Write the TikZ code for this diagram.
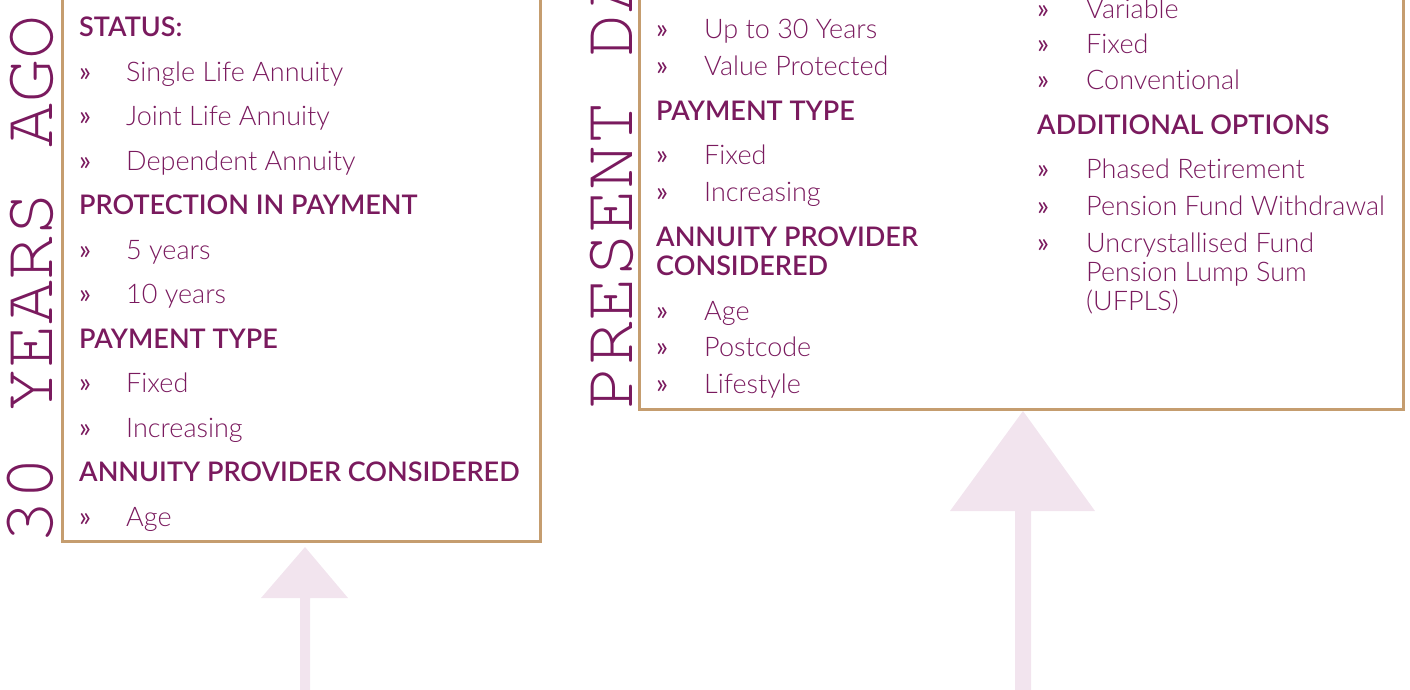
\documentclass[tikz,border=0pt]{standalone}
\usepackage{fontspec}
\newfontfamily\latofont{Lato}[Ligatures=NoCommon]
\IfFontExistsTF{Lato Light}{\newfontfamily\itemfont{Lato Light}[Ligatures=NoCommon]}{\let\itemfont\latofont}
\IfFontExistsTF{Lato Semibold}{\newfontfamily\headfont{Lato Semibold}[Ligatures=NoCommon]}{\newcommand\headfont{\latofont\bfseries}}
\IfFontExistsTF{TeX Gyre Cursor}{\newfontfamily\capfont{TeX Gyre Cursor}}{\newfontfamily\capfont{Liberation Mono}}
\definecolor{plum}{HTML}{7A1A5E}
\definecolor{boxtan}{HTML}{C59D6F}
\definecolor{blush}{HTML}{F2E4EE}
\tikzset{
  item/.style={anchor=base west, inner sep=0pt, text=plum,
    font=\itemfont\fontsize{27}{32}\selectfont},
  head/.style={anchor=base west, inner sep=0pt, text=plum,
    font=\headfont\fontsize{27}{32}\selectfont},
  bul/.style={anchor=base west, inner sep=0pt, text=plum,
    font=\latofont\fontsize{28}{32}\selectfont},
  vlabel/.style={anchor=base west, inner sep=0pt, rotate=90, text=plum,
    text height=42pt, text depth=0pt,
    font=\capfont\fontsize{73.5}{80}\selectfont},
  panel/.style={draw=boxtan, line width=3pt},
  uparrow/.style={fill=blush}
}
\begin{document}
\begin{tikzpicture}[x=1pt,y=-1pt]
\useasboundingbox (0,0) rectangle (1410,689);
\clip (0,0) rectangle (1410,689);

% panels
\draw[panel] (62,-20) rectangle (540,541);
\draw[panel] (639,-20) rectangle (1403,409);

% side captions
\node[vlabel] (oldcap) at (52,545) {30 YEARS AGO};
\node[vlabel] (nowcap) at (632,410) {PRESENT DAY};

% left panel
\node[head] (h1) at (79,36) {STATUS:};
\node[bul] at (79,81) {»};  \node[item] (a1) at (126,81) {Single Life Annuity};
\node[bul] at (79,125) {»}; \node[item] (a2) at (126,125) {Joint Life Annuity};
\node[bul] at (79,170) {»}; \node[item] (a3) at (126,170) {Dependent Annuity};
\node[head] (h2) at (79,214) {PROTECTION IN PAYMENT};
\node[bul] at (79,259) {»}; \node[item] (a4) at (126,259) {5 years};
\node[bul] at (79,303) {»}; \node[item] (a5) at (126,303) {10 years};
\node[head] (h3) at (79,348) {PAYMENT TYPE};
\node[bul] at (79,392) {»}; \node[item] (a6) at (126,392) {Fixed};
\node[bul] at (79,437) {»}; \node[item] (a7) at (126,437) {Increasing};
\node[head] (h4) at (79,481) {ANNUITY PROVIDER CONSIDERED};
\node[bul] at (79,526) {»}; \node[item] (a8) at (126,526) {Age};

% right panel, first column
\node[bul] at (656,38) {»};  \node[item] (b1) at (704,38) {Up to 30 Years};
\node[bul] at (656,75) {»};  \node[item] (b2) at (704,75) {Value Protected};
\node[head] (k1) at (656,120) {PAYMENT TYPE};
\node[bul] at (656,164) {»}; \node[item] (b3) at (704,164) {Fixed};
\node[bul] at (656,201) {»}; \node[item] (b4) at (704,201) {Increasing};
\node[head] (k2) at (656,246) {ANNUITY PROVIDER};
\node[head] (k2b) at (656,275) {CONSIDERED};
\node[bul] at (656,320) {»}; \node[item] (b5) at (704,320) {Age};
\node[bul] at (656,356) {»}; \node[item] (b6) at (704,356) {Postcode};
\node[bul] at (656,393) {»}; \node[item] (b7) at (704,393) {Lifestyle};

% right panel, second column
\node[bul] at (1037,18) {»};  \node[item] (c1) at (1086,18) {Variable};
\node[bul] at (1037,53) {»};  \node[item] (c2) at (1086,53) {Fixed};
\node[bul] at (1037,89) {»};  \node[item] (c3) at (1086,89) {Conventional};
\node[head] (m1) at (1037,134) {ADDITIONAL OPTIONS};
\node[bul] at (1037,178) {»}; \node[item] (c4) at (1086,178) {Phased Retirement};
\node[bul] at (1037,215) {»}; \node[item] (c5) at (1086,215) {Pension Fund Withdrawal};
\node[bul] at (1037,252) {»}; \node[item] (c6) at (1086,252) {Uncrystallised Fund};
\node[item] (c6b) at (1086,281) {Pension Lump Sum};
\node[item] (c6c) at (1086,310) {(UFPLS)};

% upward arrows
\coordinate (oldtip) at (305,547);
\fill[uparrow] (oldtip) -- ++(43,51) -- ++(-38,0) -- ++(0,110) -- ++(-10,0) -- ++(0,-110) -- ++(-39,0) -- cycle;
\coordinate (nowtip) at (1023,411);
\fill[uparrow] (nowtip) -- ++(72,100) -- ++(-64,0) -- ++(0,200) -- ++(-16,0) -- ++(0,-200) -- ++(-65,0) -- cycle;
\end{tikzpicture}
\end{document}
